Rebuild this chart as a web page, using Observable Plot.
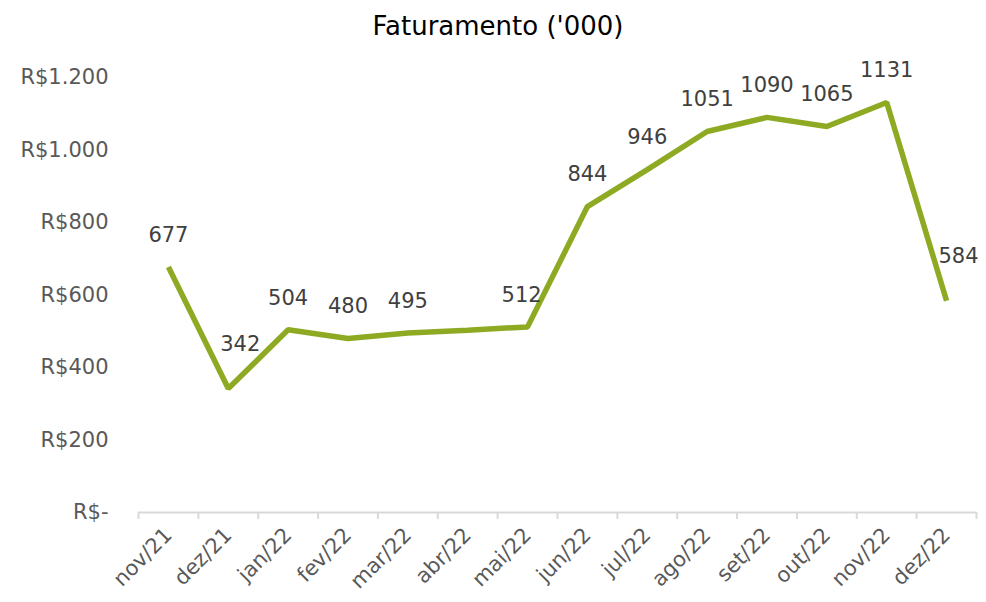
<!DOCTYPE html>
<html>
<head>
<meta charset="utf-8">
<script src="https://cdn.jsdelivr.net/npm/d3@7"></script>
<script src="https://cdn.jsdelivr.net/npm/@observablehq/plot@0.6"></script>
<style>
  html, body { margin: 0; padding: 0; background: #fff; }
  #title { height: 50px; width: 996px; text-align: center; font-family: "DejaVu Sans", sans-serif; font-size: 26px; color: #000; line-height: 52px; }
  svg { display: block; }
</style>
</head>
<body>
<div id="title">Faturamento ('000)</div>
<div id="chart"></div>
<script>
const months = ["nov/21","dez/21","jan/22","fev/22","mar/22","abr/22","mai/22","jun/22","jul/22","ago/22","set/22","out/22","nov/22","dez/22"];
const values = [677, 342, 504, 480, 495, 503, 512, 844, 946, 1051, 1090, 1065, 1131, 584];
const labels = ["677","342","504","480","495","","512","844","946","1051","1090","1065","1131","584"];
const yTicks = [0, 200, 400, 600, 800, 1000, 1200];

const data = months.map((m, i) => ({i, month: m, value: values[i], label: labels[i]}));
const boundaries = d3.range(months.length + 1).map(k => k - 0.5);
const fmtY = d => d === 0 ? "R$-" : "R$" + d3.format(",")(d).replace(/,/g, ".");

// nudge labels away from steep segments (like Excel's manual label placement)
const dropIn = d => d.i > 0 && values[d.i - 1] - d.value > 200;
const riseOut = d => d.i < values.length - 1 && values[d.i + 1] - d.value > 200;
const labelX = d => d.i + (dropIn(d) ? 0.2 : riseOut(d) ? -0.1 : 0);
const labelY = d => d.value + (dropIn(d) ? 35 : 0);

const chart = Plot.plot({
  width: 986,
  height: 552,
  marginTop: 27,
  marginBottom: 90,
  marginLeft: 138,
  marginRight: 10,
  style: {fontFamily: "'DejaVu Sans', sans-serif", color: "#595959", background: "#fff"},
  x: {type: "linear", domain: [-0.5, months.length - 0.5]},
  y: {domain: [0, 1200]},
  marks: [
    Plot.ruleY([0], {stroke: "#d9d9d9", strokeWidth: 2}),
    Plot.axisX({ticks: boundaries, tickSize: 7, tickFormat: () => "", stroke: "#d9d9d9", strokeWidth: 2, strokeOpacity: 1, label: null}),
    Plot.axisX({ticks: d3.range(months.length), tickSize: 0, tickPadding: 19, tickRotate: -45, tickFormat: i => months[i], fontSize: 21, fill: "#595959", label: null}),
    Plot.axisY({ticks: yTicks, tickSize: 0, tickPadding: 30, tickFormat: fmtY, fontSize: 21, fill: "#595959", label: null}),
    Plot.line(data, {x: "i", y: "value", stroke: "#8DAA22", strokeWidth: 5.5, strokeLinejoin: "miter", strokeLinecap: "butt"}),
    Plot.text(data.filter(d => d.label !== ""), {x: labelX, y: labelY, text: "label", dy: -32, fontSize: 21, fill: "#404040"})
  ]
});
document.getElementById("chart").appendChild(chart);
</script>
</body>
</html>
